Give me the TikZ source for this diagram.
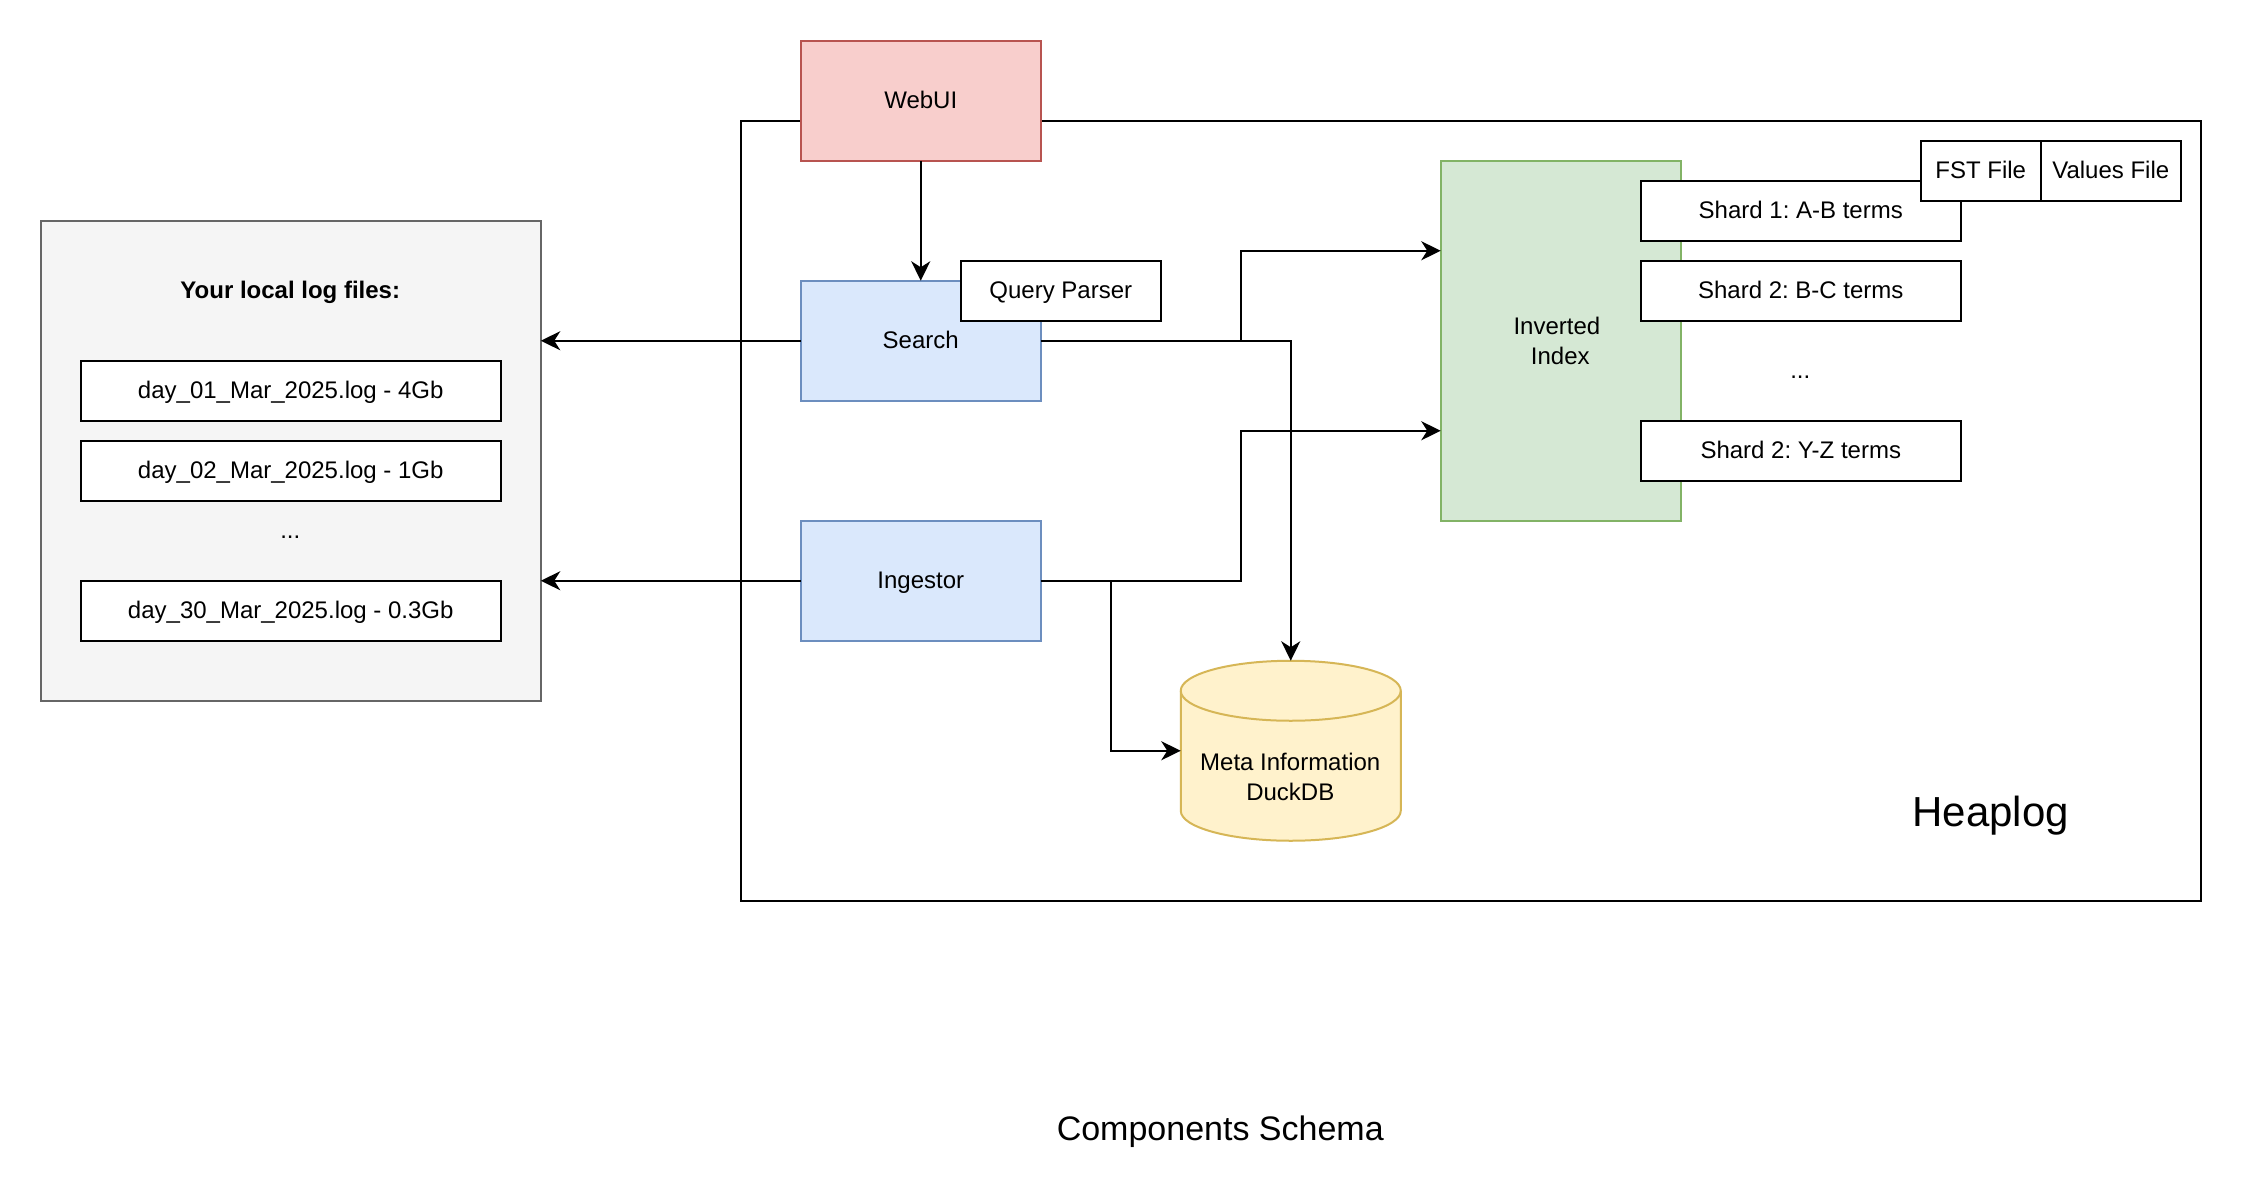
\documentclass[tikz,border=0pt]{standalone}
\usepackage{fontspec}
\setmainfont{Liberation Sans}
\usetikzlibrary{arrows.meta}
\definecolor{redfill}{HTML}{F8CECC}\definecolor{redline}{HTML}{B85450}
\definecolor{bluefill}{HTML}{DAE8FC}\definecolor{blueline}{HTML}{6C8EBF}
\definecolor{greenfill}{HTML}{D5E8D4}\definecolor{greenline}{HTML}{82B366}
\definecolor{yellowfill}{HTML}{FFF2CC}\definecolor{yellowline}{HTML}{D6B656}
\definecolor{greyfill}{HTML}{F5F5F5}\definecolor{greyline}{HTML}{666666}
\tikzset{
  x=1pt,y=-1pt,
  lbl/.style={inner sep=0pt,outer sep=0pt,align=center,font=\fontsize{24}{30}\selectfont\frenchspacing,text height=19.7pt,text depth=4pt},
  box/.style={lbl,draw=black,line width=2pt,rectangle,minimum width=#1},
  box/.default=240pt,
  tall/.style={minimum height=120pt},
  short/.style={minimum height=60pt},
  redbox/.style={box,tall,fill=redfill,draw=redline},
  bluebox/.style={box,tall,fill=bluefill,draw=blueline},
  whitebox/.style={box=#1,short,fill=white},
  arr/.style={draw=black,line width=2pt,-{Stealth[length=19.5pt,width=19pt,inset=6pt]}},
}
\begin{document}
\begin{tikzpicture}
\useasboundingbox (0,0) rectangle (2242,1202);
\fill[white] (0,0) rectangle (2242,1202);
\begin{scope}[shift={(0.75,0.75)}]
% outer frames
\node[box=1460pt,minimum height=780pt,fill=white] (frame) at (1470,510) {};
\node[box=500pt,minimum height=480pt,fill=greyfill,draw=greyline] (logs) at (290,460) {};
\node[lbl,font=\fontsize{24}{30}\selectfont\bfseries\frenchspacing] (logtitle) at (289.5,290) {Your local log files:};
\node[whitebox=420pt] (log1) at (290,390) {day\_01\_Mar\_2025.log - 4Gb};
\node[whitebox=420pt] (log2) at (290,470) {day\_02\_Mar\_2025.log - 1Gb};
\node[lbl] (logdots) at (289.5,530) {...};
\node[whitebox=420pt] (log3) at (290,610) {day\_30\_Mar\_2025.log - 0.3Gb};
% components
\node[redbox] (webui) at (920,100) {WebUI};
\node[bluebox] (search) at (920,340) {Search};
\node[whitebox=200pt] (parser) at (1060,290) {Query Parser};
\node[bluebox] (ingestor) at (920,580) {Ingestor};
\node[box=240pt,minimum height=360pt,fill=greenfill,draw=greenline] (inverted) at (1560,340) {};
\node[lbl] (invertedtext) at (1559.5,356) {Inverted\kern6.7pt\\Index};
\node[whitebox=320pt] (shard1) at (1800,210) {Shard 1: A-B terms};
\node[whitebox=320pt] (shard2) at (1800,290) {Shard 2: B-C terms};
\node[lbl] (sharddots) at (1799.5,370) {...};
\node[whitebox=320pt] (shard3) at (1800,450) {Shard 2: Y-Z terms};
\node[whitebox=120pt] (fst) at (1980,170) {FST File};
\node[whitebox=140pt] (values) at (2110,170) {Values File};
% cylinder
\node[inner sep=0pt,outer sep=0pt,minimum width=220pt,minimum height=180pt] (db) at (1290,750) {};
\path[draw=yellowline,fill=yellowfill,line width=2pt]
  (db.north west) ++(0,30) arc[start angle=180,end angle=0,x radius=110pt,y radius=30pt]
  -- ++(0,120) arc[start angle=0,end angle=-180,x radius=110pt,y radius=30pt] -- cycle;
\path[draw=yellowline,line width=2pt]
  (db.north west) ++(0,30) arc[start angle=180,end angle=360,x radius=110pt,y radius=30pt];
\node[lbl] (dbtext) at (1289.5,792) {Meta Information\\DuckDB};
% free labels
\node[lbl,font=\fontsize{42}{50}\selectfont,text height=33pt,text depth=5pt] (heaplog) at (1990,812) {Heaplog};
\node[lbl,font=\fontsize{34}{40}\selectfont\frenchspacing,text height=27pt,text depth=4pt] (caption) at (1219.5,1128) {Components Schema};
% connector bends
\coordinate (kneeS) at (1240,340);
\coordinate (kneeI) at (1240,580);
\coordinate (kneeD) at (1110,580);
\coordinate (invA) at (1440,250);
\coordinate (invB) at (1440,430);
% connectors
\draw[arr] (webui.south) -- (search.north);
\draw[arr] (search.west) -- (search.west -| logs.east);
\draw[arr] (ingestor.west) -- (ingestor.west -| logs.east);
\draw[arr] (search.east) -- (kneeS) |- (invA);
\draw[arr] (search.east) -| (db.north);
\draw[arr] (ingestor.east) -- (kneeI) |- (invB);
\draw[arr] (ingestor.east) -- (kneeD) |- (db.west);
\end{scope}
\end{tikzpicture}
\end{document}
